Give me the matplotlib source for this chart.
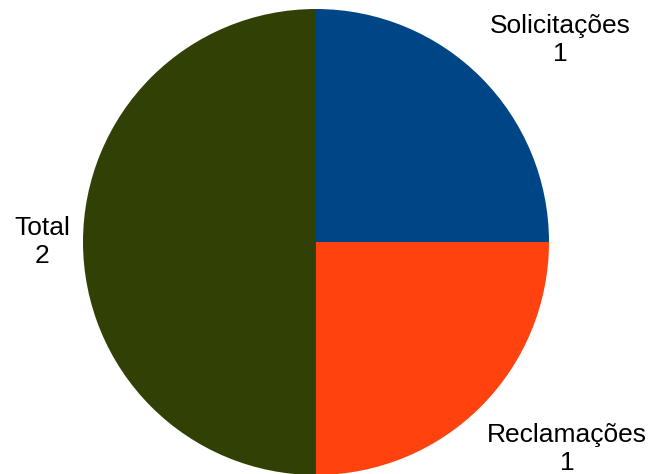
import matplotlib
matplotlib.use('Agg')
import matplotlib.pyplot as plt

categories = ['Solicitações', 'Reclamações', 'Total']
values = [1, 1, 2]
colors = ['#004586', '#ff420e', '#314004']

plt.rcParams['font.family'] = ['Liberation Sans', 'DejaVu Sans']

fig = plt.figure(figsize=(6.52, 4.74), dpi=100)
ax = fig.add_axes([0, 0, 1, 1])

# pie in pixel-like data coords (y up)
ax.pie(values, colors=colors, startangle=90, counterclock=False,
       center=(316, 232), radius=233, wedgeprops=dict(linewidth=0))

ax.set_xlim(0, 652)
ax.set_ylim(0, 474)
ax.set_aspect('equal')
ax.axis('off')

label_pos = [(560, 434), (567, 25), (42, 232)]
for (x, y), name, v in zip(label_pos, categories, values):
    ax.text(x, y, '%s\n%d' % (name, v), ha='center', va='center',
            fontsize=19, linespacing=1.2, color='#000000')

fig.savefig('out.png', dpi=100)
